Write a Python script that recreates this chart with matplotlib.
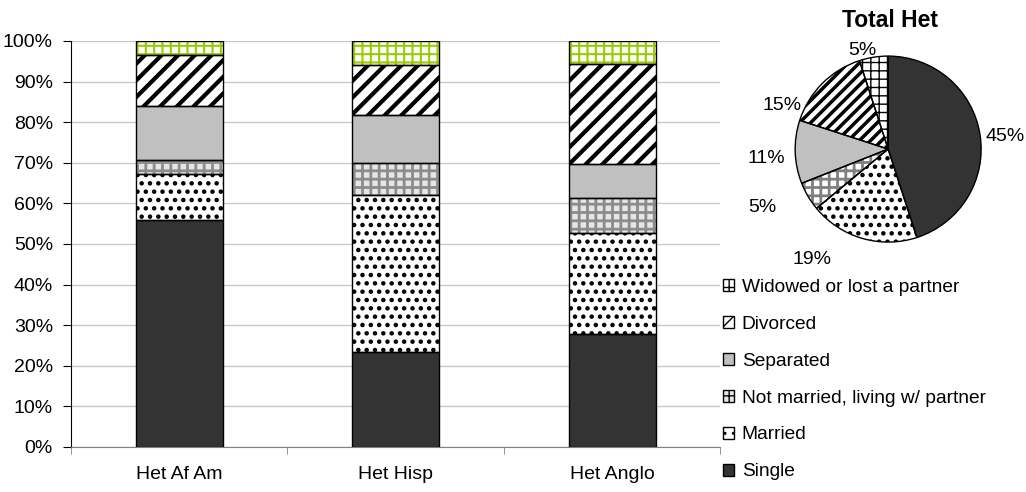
import numpy as np
import matplotlib
matplotlib.use('Agg')
import matplotlib.pyplot as plt
from matplotlib.patches import Patch

plt.rcParams['font.family'] = ['Liberation Sans', 'DejaVu Sans']
plt.rcParams['font.size'] = 14

groups = ['Het Af Am', 'Het Hisp', 'Het Anglo']
status = ['Single', 'Married', 'Not married, living w/ partner',
          'Separated', 'Divorced', 'Widowed or lost a partner']

single = [55.9, 23.4, 27.8]
married = [11.3, 38.7, 25.0]
not_married = [3.5, 7.9, 8.5]
separated = [13.3, 11.8, 8.3]
divorced = [12.5, 12.4, 24.7]
widowed = [3.5, 5.8, 5.7]

pie_vals = [45, 19, 5, 11, 15, 5]
pie_labels = ['45%', '19%', '5%', '11%', '15%', '5%']
# where excel put the pie labels (in pie radius units)
pie_label_pos = [(1.26, 0.14), (-0.82, -1.19), (-1.35, -0.63),
                 (-1.31, -0.10), (-1.14, 0.47), (-0.28, 1.06)]

series = [single, married, not_married, separated, divorced, widowed]
# face, hatch, hatch colour, hatch width
styles = [
    ('#333333', '', '#333333', 1.0),
    ('white', '..', 'black', 2.0),
    ('#e6e6e6', '++', '#8c8c8c', 2.0),
    ('#c0c0c0', '', '#c0c0c0', 1.0),
    ('white', '//', 'black', 3.0),
    ('white', '++', '#99cc00', 1.5),
]

fig = plt.figure(figsize=(10.26, 4.92), dpi=100)
ax = fig.add_axes([0.0692, 0.0915, 0.633, 0.8252])

x = np.arange(len(groups))
bottom = np.zeros(len(groups))
for vals, (fc, hatch, hc, hlw) in zip(series, styles):
    vals = np.array(vals)
    with plt.rc_context({'hatch.linewidth': hlw}):
        bars = ax.bar(x, vals, 0.4, bottom=bottom, color=fc, edgecolor=hc,
                      hatch=hatch, linewidth=0, zorder=2)
        for b in bars:
            if hasattr(b, 'set_hatch_linewidth'):
                b.set_hatch_linewidth(hlw)
    ax.bar(x, vals, 0.4, bottom=bottom, fill=False, edgecolor='black',
           linewidth=1.0, zorder=3)
    bottom += vals

ax.set_xlim(-0.5, 2.5)
ax.set_ylim(0, 100)
ax.set_yticks(np.arange(0, 101, 10))
ax.set_yticklabels(['%d%%' % v for v in range(0, 101, 10)])
ax.yaxis.grid(True, color='#c8c8c8', linewidth=1.0, zorder=0)
ax.set_axisbelow(True)
ax.set_xticks(x)
ax.set_xticklabels(groups)
ax.set_xticks([-0.5, 0.5, 1.5, 2.5], minor=True)
ax.tick_params(axis='x', which='major', length=0, pad=14)
ax.tick_params(axis='x', which='minor', length=5, direction='out', color='#808080')
ax.tick_params(axis='y', length=6, direction='out', pad=7)
ax.spines['top'].set_visible(False)
ax.spines['right'].set_visible(False)
ax.spines['bottom'].set_color('#808080')
ax.spines['left'].set_color('black')

# pie
pax = fig.add_axes([0.775, 0.508, 0.1813, 0.378])
pie_styles = [
    ('#333333', '', 'black', 1.0),
    ('white', '..', 'black', 2.0),
    ('white', '++', '#808080', 2.0),
    ('#c0c0c0', '', '#c0c0c0', 1.0),
    ('white', '///', 'black', 2.5),
    ('white', '++', 'black', 1.0),
]
wedges, texts = pax.pie(pie_vals, labels=pie_labels, startangle=90,
                        counterclock=False, textprops={'fontsize': 14})
for w, (fc, hatch, hc, hlw) in zip(wedges, pie_styles):
    w.set_facecolor(fc)
    w.set_hatch(hatch)
    w.set_edgecolor(hc)
    w.set_linewidth(0)
    if hasattr(w, 'set_hatch_linewidth'):
        w.set_hatch_linewidth(hlw)
for t, pos in zip(texts, pie_label_pos):
    t.set_position(pos)
    t.set_ha('center')
    t.set_va('center')
pax.pie(pie_vals, startangle=90, counterclock=False,
        wedgeprops={'fill': False, 'edgecolor': 'black', 'linewidth': 1.0})
pax.set_xlim(-1, 1)
pax.set_ylim(-1, 1)
pax.set_aspect('equal')
pax.axis('off')
fig.text(0.867, 0.958, 'Total Het', ha='center', va='center',
         fontsize=16.5, fontweight='bold')

handles = []
for (fc, hatch, hc, hlw) in styles:
    handles.append(Patch(facecolor=fc, edgecolor='black', hatch=hatch, linewidth=1.0))
fig.legend(handles[::-1], status[::-1], loc='upper left',
           bbox_to_anchor=(0.695, 0.453), frameon=False, borderpad=0,
           handlelength=0.6, handleheight=0.6, handletextpad=0.4,
           labelspacing=1.04, fontsize=13.8)

fig.savefig('out.png', dpi=100)
